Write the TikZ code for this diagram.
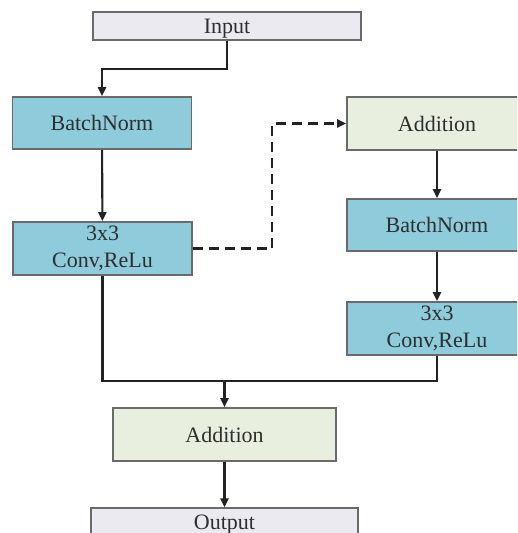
\documentclass[tikz,border=0pt]{standalone}
\usepackage{fontspec}
\setmainfont{Liberation Serif}
\usetikzlibrary{arrows.meta}
\definecolor{blk}{HTML}{8ECCDC}
\definecolor{addc}{HTML}{E9EFDF}
\definecolor{ioc}{HTML}{ECEAF1}
\definecolor{edge}{HTML}{6A6A6A}
\definecolor{ink}{HTML}{222222}
\definecolor{txt}{HTML}{2E2E2E}
\tikzset{
  box/.style={draw=edge, line width=1.7pt, rectangle, inner sep=0pt, align=center,
    text=txt, font=\fontsize{22}{26.5}\selectfont},
  bluebox/.style={box, fill=blk, minimum width=179pt, minimum height=53pt},
  addbox/.style={box, fill=addc, minimum height=53pt},
  iobox/.style={box, line width=1.2pt, fill=ioc, minimum height=28pt, text depth=0pt},
  link/.style={draw=ink, line width=2.1pt},
  arr/.style={link, -{Triangle[length=9pt,width=8pt]}},
  dashlink/.style={arr, dash pattern=on 10pt off 6pt}
}
\begin{document}
\begin{tikzpicture}[x=1pt,y=-1pt]
\clip (0,0) rectangle (517,533);
\fill[white] (0,0) rectangle (517,533);

% main branch
\node[iobox, minimum width=268pt] (in) at (227,26) {Input};
\node[bluebox, minimum height=52pt] (bn1) at (102,123) {BatchNorm};
\node[bluebox] (cv1) at (102.5,248.5) {3x3\\Conv,ReLu};

% side branch
\node[addbox, minimum width=180pt] (ad1) at (437,123.5) {Addition};
\node[bluebox, minimum width=180pt, minimum height=52pt] (bn2) at (437,225) {BatchNorm};
\node[bluebox, minimum width=180pt] (cv2) at (437,328.5) {3x3\\Conv,ReLu};

% merge and output
\node[addbox, minimum width=223pt] (ad2) at (224.5,434.5) {Addition};
\node[iobox, minimum width=267pt] (out) at (224.5,522) {Output};

% connectors
\coordinate (k1) at (165,69);
\draw[arr] (in.south) |- (k1) -| (bn1.north);
\draw[arr] (bn1) -- (cv1);
\coordinate (d1) at (272,190);
\draw[dashlink] (cv1.east) -| (d1) |- (ad1.west);
\draw[arr] (ad1) -- (bn2);
\draw[arr] (bn2) -- (cv2);
\coordinate (m) at (224.5,381);
\draw[link] (cv1.south) |- (m);
\draw[link] (cv2.south) |- (m);
\draw[arr] (m) -- (ad2.north);
\draw[arr] (ad2) -- (out);
\end{tikzpicture}
\end{document}
